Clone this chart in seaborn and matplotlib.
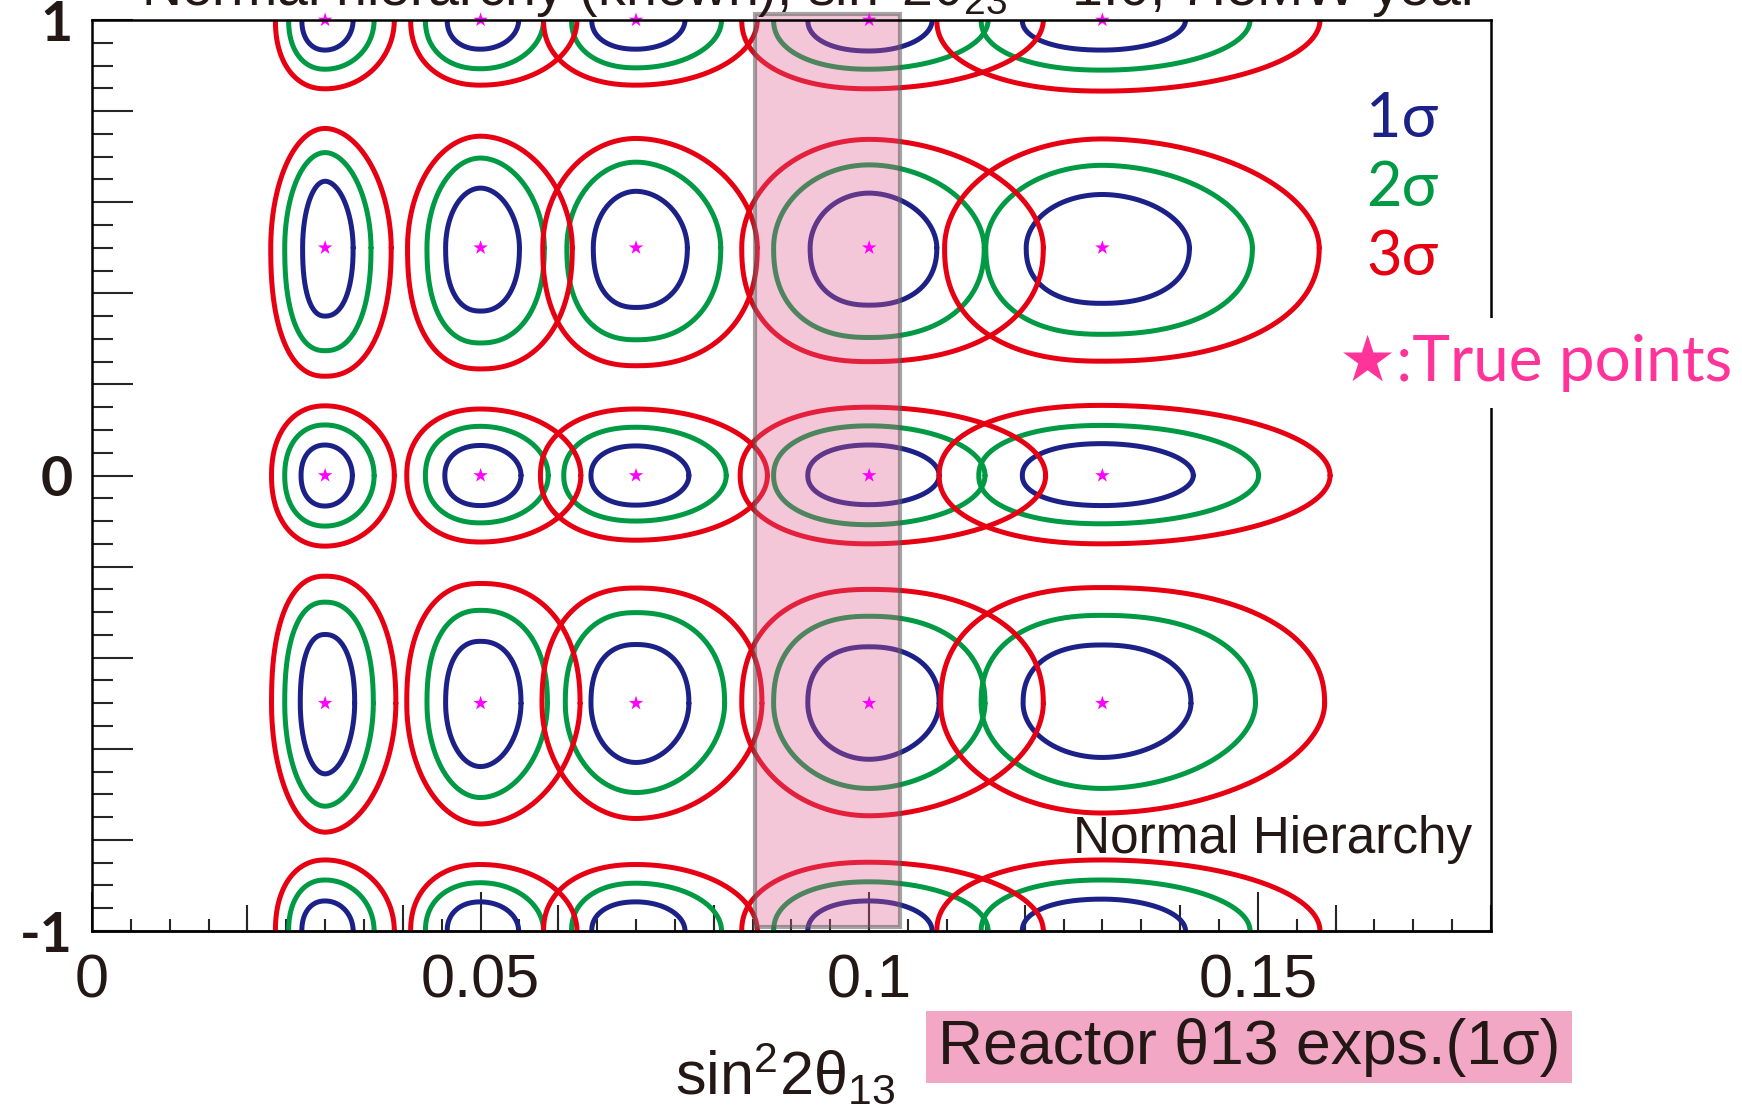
import numpy as np
import matplotlib
matplotlib.use("Agg")
import matplotlib.pyplot as plt
import seaborn as sns
from matplotlib import font_manager as fm
from matplotlib.patches import Rectangle
from matplotlib.ticker import FixedLocator, FixedFormatter

# ---------------- data ----------------
true_x = [0.03, 0.05, 0.07, 0.10, 0.13]          # sin^2 2theta13 of true points
row_y = [1.0, 0.5, 0.0, -0.5]                     # delta_CP/pi of true points (1 == -1)
levels = ["1σ", "2σ", "3σ"]

# extents of each contour around its true point: rows follow row_y, columns follow true_x
sig1_left = [[.0030, .0043, .0057, .0079, .0103], [.0029, .0045, .0055, .0076, .0098],
             [.0031, .0046, .0058, .0079, .0103], [.0032, .0045, .0058, .0079, .0102]]
sig1_right = [[.0036, .0049, .0063, .0081, .0107], [.0036, .0050, .0066, .0087, .0112],
              [.0035, .0052, .0068, .0090, .0117], [.0038, .0052, .0068, .0090, .0114]]
sig1_up = [[.066, .064, .064, .066, .070], [.146, .131, .124, .120, .117],
           [.067, .066, .065, .067, .070], [.151, .136, .129, .124, .128]]
sig1_down = [[.066, .064, .064, .068, .066], [.150, .139, .131, .126, .122],
             [.067, .066, .065, .064, .066], [.155, .139, .130, .123, .119]]

sig2_left = [[.0047, .0071, .0083, .0123, .0156], [.0052, .0069, .0089, .0123, .0150],
             [.0052, .0071, .0093, .0123, .0159], [.0052, .0069, .0091, .0123, .0156]]
sig2_right = [[.0063, .0081, .0110, .0153, .0190], [.0059, .0082, .0109, .0148, .0193],
              [.0063, .0087, .0116, .0149, .0201], [.0062, .0086, .0114, .0149, .0197]]
sig2_up = [[.112, .106, .105, .108, .112], [.209, .197, .188, .182, .181],
           [.111, .108, .106, .109, .110], [.222, .204, .199, .191, .193]]
sig2_down = [[.108, .107, .105, .108, .110], [.226, .209, .202, .197, .190],
             [.111, .104, .100, .108, .106], [.226, .207, .196, .187, .187]]

sig3_left = [[.0064, .0090, .0119, .0164, .0213], [.0070, .0094, .0120, .0164, .0203],
             [.0069, .0095, .0123, .0166, .0210], [.0069, .0095, .0121, .0164, .0208]]
sig3_right = [[.0089, .0124, .0156, .0224, .0280], [.0085, .0118, .0156, .0224, .0279],
              [.0089, .0129, .0169, .0227, .0293], [.0091, .0128, .0162, .0224, .0286]]
sig3_up = [[.156, .146, .146, .151, .156], [.262, .245, .240, .238, .239],
           [.153, .146, .146, .150, .154], [.279, .263, .253, .250, .254]]
sig3_down = [[.151, .143, .143, .151, .156], [.282, .266, .259, .250, .249],
             [.155, .146, .142, .150, .150], [.283, .265, .253, .247, .241]]

reactor_band = [0.0853, 0.1039]                   # reactor theta13 1 sigma range

x_ticks = [0, 0.05, 0.10, 0.15]
x_ticklabels = ["0", "0.05", "0.1", "0.15"]
y_labeled = {-1.0: "-1", 0.0: "0", 1.0: "1"}

# ---------------- style ----------------
sns.set_style("ticks")
names = {f.name for f in fm.fontManager.ttflist}
NARROW = "Liberation Sans Narrow" if "Liberation Sans Narrow" in names else "Liberation Sans"
HUM = "Lato"
plt.rcParams["font.family"] = [NARROW, "DejaVu Sans"]
plt.rcParams["mathtext.fontset"] = "custom"
plt.rcParams["mathtext.rm"] = NARROW
plt.rcParams["mathtext.it"] = NARROW
plt.rcParams["mathtext.sf"] = NARROW

C_BLUE, C_GREEN, C_RED = "#1c2188", "#009944", "#e60012"
level_colors = [C_BLUE, C_GREEN, C_RED]
extents = [(sig1_left, sig1_right, sig1_up, sig1_down),
           (sig2_left, sig2_right, sig2_up, sig2_down),
           (sig3_left, sig3_right, sig3_up, sig3_down)]

# superellipse exponents (top, bottom, left, right) per row
row_shape = [(2.1, 2.1, 2.3, 1.9), (1.8, 2.5, 2.2, 2.0), (2.1, 2.1, 2.3, 1.9), (2.5, 1.8, 2.2, 2.0)]


def curve(xc, yc, L, R, U, D, shp, npts=500):
    nt, nb, nl, nr = shp
    t = np.linspace(0, 2 * np.pi, npts)
    c, s = np.cos(t), np.sin(t)
    n = (np.where(c >= 0, nr, nl) + np.where(s >= 0, nt, nb)) / 2
    a = np.where(c >= 0, R, L)
    b = np.where(s >= 0, U, D)
    x = xc + a * np.sign(c) * np.abs(c) ** (2 / n)
    y = yc + b * np.sign(s) * np.abs(s) ** (2 / n)
    return x, y


fig = plt.figure(figsize=(17.42, 11.19), dpi=100)
ax = fig.add_axes([0.0528, 0.168, 0.8031, 0.8141])

for li, (lft, rgt, up, dn) in enumerate(extents):
    for ri, yc in enumerate(row_y):
        centers = [1.0, -1.0] if yc == 1.0 else [yc]
        for ci, xc in enumerate(true_x):
            for ycc in centers:
                x, y = curve(xc, ycc, lft[ri][ci], rgt[ri][ci], up[ri][ci], dn[ri][ci], row_shape[ri])
                sns.lineplot(x=x, y=y, sort=False, estimator=None, ax=ax,
                             color=level_colors[li], lw=3.6, zorder=3)

# reactor band
ax.add_patch(Rectangle((reactor_band[0], -0.992), reactor_band[1] - reactor_band[0], 2.005,
                       facecolor="#e06090", alpha=0.35, edgecolor="none", zorder=4, clip_on=False))
ax.add_patch(Rectangle((reactor_band[0], -0.992), reactor_band[1] - reactor_band[0], 2.005,
                       facecolor="none", edgecolor=(0.35, 0.35, 0.35, 0.55), lw=3, zorder=4,
                       clip_on=False))

# true points
sx = [x for _ in row_y for x in true_x]
sy = [y for y in row_y for _ in true_x]
sns.scatterplot(x=sx, y=sy, marker="*", s=120, color="#ff00ff", edgecolor="none",
                zorder=6, clip_on=False, ax=ax)

ax.set_xlim(0, 0.18)
ax.set_ylim(-1, 1)
ax.set_xlabel("")
ax.set_ylabel("")

for sp in ax.spines.values():
    sp.set_linewidth(1.8)
    sp.set_color("black")
    sp.set_zorder(7)

ax.set_xticks(x_ticks)
ax.set_xticklabels(x_ticklabels)
ax.xaxis.set_minor_locator(FixedLocator(np.round(np.arange(0, 0.1801, 0.005), 4)))
ax.tick_params(axis="x", which="major", direction="in", length=28, width=1.5,
               labelsize=44, pad=16, bottom=True, top=False, labelcolor="#231815")
ax.tick_params(axis="x", which="minor", direction="in", length=8.6, width=1.5,
               bottom=True, top=False)

yt = np.round(np.arange(-1, 1.0001, 0.2), 2)
ax.yaxis.set_major_locator(FixedLocator(yt))
ax.yaxis.set_major_formatter(FixedFormatter([y_labeled.get(float(v), "") for v in yt]))
ax.yaxis.set_minor_locator(FixedLocator(np.round(np.arange(-1, 1.0001, 0.05), 2)))
ax.tick_params(axis="y", which="major", direction="in", length=29.5, width=1.5,
               labelsize=40, pad=14, left=True, right=False, labelcolor="#231815")
ax.tick_params(axis="y", which="minor", direction="in", length=15, width=1.5,
               left=True, right=False)
for lab in ax.get_yticklabels():
    lab.set_fontfamily(HUM)
    lab.set_fontweight("bold")

sec = ax.secondary_xaxis("bottom")
sec.set_xticks(np.round(np.arange(0.02, 0.1801, 0.02), 3))
sec.tick_params(direction="in", length=19, width=1.5, labelbottom=False)
sec.spines["bottom"].set_linewidth(1.8)

# texts
fig.text(0.4655, 1 - 6 / 1119, "Normal hierarchy (known), sin$^2$2θ$_{23}$ = 1.0, 7.5MW year",
         ha="center", va="baseline", fontsize=40, color="#231815")
fig.text(0.451, 0.0223, "sin$^2$2θ$_{13}$", ha="center", va="baseline", fontsize=44,
         color="#231815")
fig.text(0.845, 0.2377, "Normal Hierarchy", ha="right", va="baseline", fontsize=37,
         color="#231815")

for lvl, col, yy in zip(levels, level_colors, [0.8928, 0.8311, 0.7694]):
    fig.text(0.8048, yy, lvl, ha="center", va="center", fontsize=44, color=col,
             family=[HUM, "DejaVu Sans"])

fig.text(0.8817, 0.6756, "★:True points", ha="center", va="center", fontsize=46,
         color="#ff3399", family=[HUM, "DejaVu Sans"], zorder=10,
         bbox=dict(boxstyle="square,pad=0.25", facecolor="white", edgecolor="none"))

fig.patches.append(Rectangle((0.5313, 0.0322), 0.3711, 0.0643, transform=fig.transFigure,
                             facecolor="#f2a8c4", edgecolor="none", zorder=1))
fig.text(0.717, 0.0643, "Reactor θ13 exps.(1σ)", ha="center", va="center", fontsize=45,
         color="#231815", zorder=2)

fig.savefig("out.png", dpi=100)
